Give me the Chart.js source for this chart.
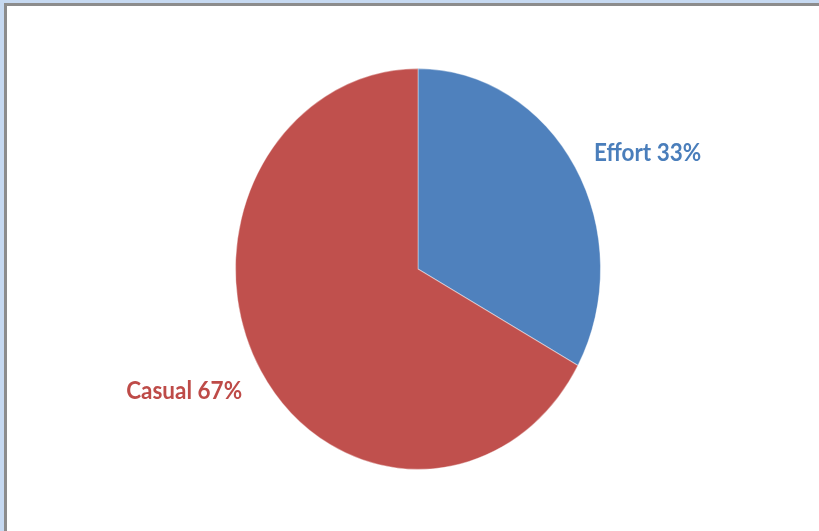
<!DOCTYPE html>
<html>
<head>
<meta charset="utf-8">
<script src="https://cdn.jsdelivr.net/npm/chart.js@4/dist/chart.umd.min.js"></script>
<style>
  html, body { margin: 0; padding: 0; background: #c6d9f1; }
  .frame {
    position: absolute; left: 4px; top: 3px; width: 830px; height: 540px;
    border-left: 3px solid #8c8c8c; border-top: 3px solid #8c8c8c;
    background: #fff;
  }
  .wrap { position: absolute; left: 0; top: 0; width: 819px; height: 531px; }
</style>
</head>
<body>
<div class="frame"></div>
<div class="wrap"><canvas id="chart"></canvas></div>
<script>
const labels = ["Effort", "Casual"];
const values = [33, 67];
const colors = ["#4f81bd", "#c0504d"];
const textColors = ["#4a7ebb", "#be4b48"];

// the original pie is a bit taller than wide
const stretchY = 1.098;

const ellipse = {
  id: "ellipse",
  beforeDatasetsDraw(chart) {
    const arc = chart.getDatasetMeta(0).data[0];
    const ctx = chart.ctx;
    ctx.save();
    ctx.translate(arc.x, arc.y);
    ctx.scale(1, stretchY);
    ctx.translate(-arc.x, -arc.y);
  },
  afterDatasetsDraw(chart) {
    chart.ctx.restore();
  }
};

const sliceLabels = {
  id: "sliceLabels",
  afterDatasetsDraw(chart) {
    const ctx = chart.ctx;
    const total = values.reduce((a, b) => a + b, 0);
    chart.getDatasetMeta(0).data.forEach((arc, i) => {
      const mid = (arc.startAngle + arc.endAngle) / 2;
      const x = arc.x + Math.cos(mid) * arc.outerRadius * 1.12;
      const y = arc.y + Math.sin(mid) * arc.outerRadius * 1.17 * stretchY + 3;
      ctx.save();
      ctx.translate(x, y);
      ctx.scale(1, stretchY);
      ctx.font = "bold 22.5px Lato, 'Open Sans', sans-serif";
      ctx.fillStyle = textColors[i];
      ctx.textAlign = Math.cos(mid) >= 0 ? "left" : "right";
      ctx.textBaseline = "middle";
      ctx.fillText(labels[i] + " " + Math.round(values[i] / total * 100) + "%", 0, 0);
      ctx.restore();
    });
  }
};

new Chart(document.getElementById("chart"), {
  type: "pie",
  data: {
    labels: labels,
    datasets: [{
      data: values,
      backgroundColor: colors,
      borderColor: "rgba(255,255,255,0.4)",
      borderWidth: 1
    }]
  },
  options: {
    responsive: true,
    maintainAspectRatio: false,
    animation: false,
    layout: { padding: { left: 100, right: 83, top: 86, bottom: 79 } },
    plugins: {
      legend: { display: false },
      tooltip: { enabled: false }
    }
  },
  plugins: [ellipse, sliceLabels]
});
</script>
</body>
</html>
